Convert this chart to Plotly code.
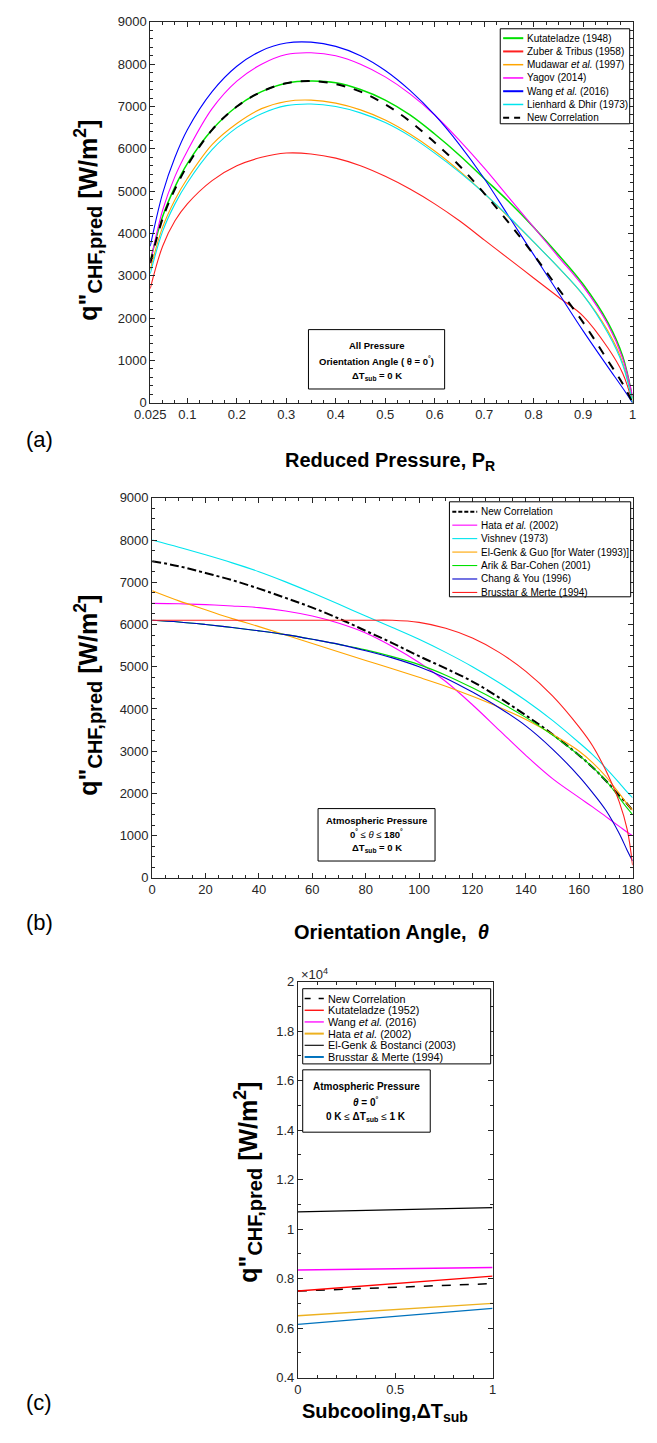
import plotly.graph_objects as go

# ---------------- Panel (a): reduced pressure ----------------
PR = [0.025, 0.05, 0.075, 0.1, 0.15, 0.2, 0.25, 0.3, 0.35, 0.4, 0.45, 0.5,
      0.55, 0.6, 0.65, 0.7, 0.75, 0.8, 0.85, 0.9, 0.95, 0.98, 1.0]
a_kutateladze = [3350, 4400, 5100, 5650, 6450, 7000, 7350, 7550, 7600, 7560, 7400, 7150,
                 6800, 6350, 5850, 5300, 4750, 4150, 3500, 2800, 1900, 1100, 100]
a_zuber = [2700, 3700, 4300, 4700, 5250, 5600, 5800, 5900, 5880, 5780, 5600, 5350,
           5050, 4700, 4300, 3850, 3400, 2950, 2500, 2050, 1300, 700, 0]
a_mudawar = [3150, 4150, 4800, 5300, 6100, 6600, 6950, 7120, 7150, 7080, 6920, 6680,
             6350, 5950, 5480, 4950, 4380, 3800, 3200, 2550, 1700, 950, 0]
a_yagov = [3300, 4550, 5350, 5950, 6950, 7600, 8000, 8230, 8270, 8200, 8000, 7700,
           7300, 6800, 6200, 5550, 4850, 4150, 3450, 2750, 1850, 1050, 150]
a_wang = [3700, 4950, 5800, 6450, 7350, 7950, 8320, 8500, 8520, 8420, 8200, 7850,
          7380, 6800, 6100, 5300, 4400, 3500, 2600, 1700, 850, 350, 0]
a_lienhard = [3050, 4050, 4700, 5200, 5980, 6500, 6830, 7020, 7060, 7000, 6850, 6620,
              6300, 5900, 5450, 4950, 4400, 3800, 3200, 2550, 1650, 900, 0]
a_new = [3300, 4350, 5050, 5600, 6450, 7000, 7350, 7550, 7600, 7530, 7350, 7050,
         6650, 6150, 5600, 4950, 4250, 3500, 2700, 1900, 1000, 450, 0]
a_xticks = [0.025, 0.1, 0.2, 0.3, 0.4, 0.5, 0.6, 0.7, 0.8, 0.9, 1.0]
a_xticklabels = ["0.025", "0.1", "0.2", "0.3", "0.4", "0.5", "0.6", "0.7", "0.8", "0.9", "1"]

# ---------------- Panel (b): orientation angle ----------------
TH = [0, 10, 20, 30, 40, 50, 60, 70, 80, 90, 100, 110, 120, 130, 140, 150, 160, 165, 170, 175, 178, 180]
b_new = [7500, 7380, 7220, 7050, 6850, 6630, 6400, 6140, 5850, 5560, 5250, 4960, 4650, 4270,
         3850, 3400, 2900, 2620, 2300, 1950, 1750, 1600]
b_hata = [6500, 6490, 6470, 6440, 6400, 6320, 6200, 6030, 5800, 5480, 5100, 4650, 4100, 3500,
          2900, 2350, 1900, 1680, 1450, 1220, 1080, 1000]
b_vishnev = [8000, 7830, 7650, 7460, 7250, 7010, 6750, 6480, 6200, 5930, 5650, 5340, 5000, 4620,
             4200, 3730, 3200, 2920, 2600, 2250, 2030, 1900]
b_elgenk = [6800, 6560, 6350, 6140, 5950, 5750, 5550, 5350, 5150, 4950, 4750, 4540, 4300, 4040,
            3750, 3400, 3000, 2730, 2400, 2000, 1750, 1600]
b_arik = [6100, 6060, 6000, 5930, 5850, 5760, 5650, 5530, 5400, 5240, 5050, 4800, 4500, 4170,
          3800, 3380, 2900, 2620, 2300, 1900, 1650, 1500]
b_chang = [6100, 6060, 6000, 5930, 5850, 5760, 5650, 5530, 5380, 5210, 5000, 4730, 4400, 4030,
           3600, 3050, 2400, 2020, 1600, 1050, 650, 400]
b_brusstar = [6100, 6100, 6100, 6100, 6100, 6100, 6100, 6100, 6100, 6100, 6050, 5910, 5680, 5340,
              4890, 4310, 3570, 3130, 2540, 1800, 1140, 300]

# ---------------- Panel (c): subcooling ----------------
DT = [0, 1]
c_new = [7500, 7800]
c_kutateladze = [7500, 8100]
c_wang = [8350, 8450]
c_hata = [6500, 7000]
c_elgenk = [10700, 10870]
c_brusstar = [6150, 6800]
c_yticks = [4000, 6000, 8000, 10000, 12000, 14000, 16000, 18000, 20000]
c_yticklabels = ["0.4", "0.6", "0.8", "1", "1.2", "1.4", "1.6", "1.8", "2"]

W, H = 657, 1443
FONT = "Arial, Liberation Sans, Helvetica, sans-serif"
TICKC = "#262626"

fig = go.Figure()
shapes = []
ann = []


def px_x(p):
    return p / W


def px_y(p):
    return 1 - p / H


def text(x, y, t, size=12, angle=0, xanchor="center", yanchor="middle", color="#000000"):
    ann.append(dict(x=px_x(x), y=px_y(y), xref="paper", yref="paper", text=t,
                    showarrow=False, textangle=angle, xanchor=xanchor, yanchor=yanchor,
                    font=dict(family=FONT, size=size, color=color)))


def rect(x0, y0, x1, y1):
    shapes.append(dict(type="rect", xref="paper", yref="paper",
                       x0=px_x(x0), x1=px_x(x1), y0=px_y(y1), y1=px_y(y0),
                       line=dict(color="#000000", width=1), fillcolor="white", layer="above"))


legends = {"a": [], "b": [], "c": []}


def add(x, y, name, color, xa, ya, leg, dash="solid", width=1.1, shape="spline",
        ldash=None, lwidth=None):
    fig.add_trace(go.Scatter(x=x, y=y, name=name, mode="lines", showlegend=False,
                             line=dict(color=color, dash=dash, width=width, shape=shape),
                             xaxis=xa, yaxis=ya))
    legends[leg].append((name, color, ldash or dash, lwidth or width))


def draw_legend(items, box, y_first, step, lx0, lx1, tx, size):
    rect(*box)
    for i, (name, color, dash, width) in enumerate(items):
        yy = y_first + i * step
        shapes.append(dict(type="line", xref="paper", yref="paper",
                           x0=px_x(lx0), x1=px_x(lx1), y0=px_y(yy), y1=px_y(yy),
                           line=dict(color=color, dash=dash, width=width), layer="above"))
        text(tx, yy, name, size=size, xanchor="left")


# panel a
add(PR, a_kutateladze, "Kutateladze (1948)", "#00e000", "x", "y", "a", width=1.5, lwidth=2)
add(PR, a_zuber, "Zuber & Tribus (1958)", "#ff2020", "x", "y", "a", lwidth=2)
add(PR, a_mudawar, "Mudawar <i>et al.</i> (1997)", "#ffa500", "x", "y", "a", lwidth=1.5)
add(PR, a_yagov, "Yagov (2014)", "#ff00ff", "x", "y", "a", lwidth=1.5)
add(PR, a_wang, "Wang <i>et al.</i> (2016)", "#0000ff", "x", "y", "a", lwidth=2)
add(PR, a_lienhard, "Lienhard & Dhir (1973)", "#00e5ee", "x", "y", "a", lwidth=1.5)
add(PR, a_new, "New Correlation", "#000000", "x", "y", "a", dash="dash", width=2,
    ldash="6px,5px", lwidth=2)

# panel b
add(TH, b_new, "New Correlation", "#000000", "x2", "y2", "b", dash="dashdot", width=2,
    ldash="4px,2px", lwidth=2)
add(TH, b_hata, "Hata <i>et al.</i> (2002)", "#ff00ff", "x2", "y2", "b")
add(TH, b_vishnev, "Vishnev (1973)", "#00e5ee", "x2", "y2", "b")
add(TH, b_elgenk, "El-Genk & Guo [for Water (1993)]", "#ffa500", "x2", "y2", "b")
add(TH, b_arik, "Arik & Bar-Cohen (2001)", "#00e000", "x2", "y2", "b")
add(TH, b_chang, "Chang & You (1996)", "#0000cc", "x2", "y2", "b")
add(TH, b_brusstar, "Brusstar & Merte (1994)", "#ff2020", "x2", "y2", "b")

# panel c
add(DT, c_new, "New Correlation", "#000000", "x3", "y3", "c", dash="dash", width=1.5,
    shape="linear", ldash="6px,8px")
add(DT, c_kutateladze, "Kutateladze (1952)", "#ff0000", "x3", "y3", "c", width=1.3, shape="linear")
add(DT, c_wang, "Wang <i>et al.</i> (2016)", "#ff00ff", "x3", "y3", "c", width=1.3, shape="linear")
add(DT, c_hata, "Hata <i>et al.</i> (2002)", "#edb120", "x3", "y3", "c", width=1.3, shape="linear",
    lwidth=2)
add(DT, c_elgenk, "El-Genk & Bostanci (2003)", "#000000", "x3", "y3", "c", width=1.1, shape="linear")
add(DT, c_brusstar, "Brusstar & Merte (1994)", "#0072bd", "x3", "y3", "c", width=1.3, shape="linear",
    lwidth=2)

tick_font = dict(family=FONT, size=13, color=TICKC)
axis_common = dict(showline=True, linecolor="#262626", linewidth=1, mirror="ticks",
                   ticks="inside", ticklen=5, tickcolor="#262626", showgrid=False,
                   zeroline=False, tickfont=tick_font)


def minor(dt, t0=0):
    return dict(dtick=dt, tick0=t0, ticks="inside", ticklen=3, tickcolor="#262626", showgrid=False)


fig.update_layout(
    width=W, height=H, margin=dict(l=0, r=0, t=0, b=0),
    paper_bgcolor="white", plot_bgcolor="white", showlegend=False,
    font=dict(family=FONT, color="#000000"),
    xaxis=dict(domain=[px_x(140), px_x(643)], range=[0.025, 1], anchor="y",
               tickmode="array", tickvals=a_xticks, ticktext=a_xticklabels,
               minor=minor(0.025), **axis_common),
    yaxis=dict(domain=[px_y(400), px_y(15)], range=[0, 9000], anchor="x",
               dtick=1000, minor=minor(200), **axis_common),
    xaxis2=dict(domain=[px_x(142), px_x(643)], range=[0, 180], anchor="y2",
                dtick=20, minor=minor(5), **axis_common),
    yaxis2=dict(domain=[px_y(880), px_y(496)], range=[0, 9000], anchor="x2",
                dtick=1000, minor=minor(250), **axis_common),
    xaxis3=dict(domain=[px_x(294), px_x(497)], range=[0, 1], anchor="y3",
                tickmode="array", tickvals=[0, 0.5, 1], ticktext=["0", "0.5", "1"],
                minor=minor(0.1), **axis_common),
    yaxis3=dict(domain=[px_y(1385), px_y(985)], range=[4000, 20000], anchor="x3",
                tickmode="array", tickvals=c_yticks, ticktext=c_yticklabels,
                minor=minor(1000), **axis_common),
)

# legends
draw_legend(legends["a"], (505, 22, 640, 118), 31.5, 13.4, 508, 529, 531, 10)
draw_legend(legends["b"], (452, 500, 641, 596), 510, 13.6, 455, 481, 483, 10)
draw_legend(legends["c"], (299, 992, 495, 1068), 1002, 11.8, 301, 321, 323, 10.8)

# info boxes
rect(305, 326, 447, 386)
text(376, 342, "<b>All Pressure</b>", size=9.5)
text(376, 358, "<b>Orientation Angle ( θ = 0<sup>°</sup>)</b>", size=9.5)
text(376, 373, "<b>ΔT<sub>sub</sub> = 0 K</b>", size=9.5)

rect(315, 810, 437, 863)
text(376, 822, "<b>Atmospheric Pressure</b>", size=9.5)
text(376, 836, "<b>0<sup>°</sup></b> ≤ <i>θ</i> ≤ <b>180<sup>°</sup></b>", size=9.5)
text(376, 850, "<b>ΔT<sub>sub</sub> = 0 K</b>", size=9.5)

rect(299, 1074, 432, 1137)
text(365, 1091, "<b>Atmospheric Pressure</b>", size=10)
text(365, 1106, "<b><i>θ</i> = 0<sup>°</sup></b>", size=10)
text(365, 1122, "<b>0 K</b> ≤ <b>ΔT<sub>sub</sub></b> ≤ <b>1 K</b>", size=10)

# axis titles and panel labels
ytitle = ("<b>q\"<sub><span style='font-size:20px'>CHF,pred</span></sub> "
          "[W/m<sup>2</sup>]</b>")
text(75, 215, ytitle, size=25, angle=-90)
text(75, 695, ytitle, size=25, angle=-90)
text(242, 1188, ytitle, size=25, angle=-90)
text(390, 459, "<b>Reduced Pressure, P<sub>R</sub></b>", size=20)
text(392, 935, "<b>Orientation Angle,  <i>θ</i></b>", size=20)
text(296, 1420, "<b>Subcooling,ΔT<sub>sub</sub></b>", size=20, xanchor="left")
text(8, 437, "(a)", size=22, xanchor="left")
text(8, 925, "(b)", size=22, xanchor="left")
text(8, 1410, "(c)", size=22, xanchor="left")
text(295, 977, "×10<sup>4</sup>", size=13, xanchor="left", color=TICKC)

fig.update_layout(annotations=ann, shapes=shapes)

fig.write_html("out.html", include_plotlyjs=True, config={"responsive": False})
